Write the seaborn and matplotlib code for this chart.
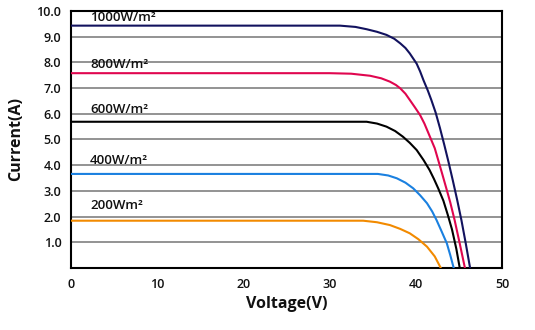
import matplotlib
matplotlib.use("Agg")
import matplotlib.pyplot as plt
import seaborn as sns
import pandas as pd

# Data
labels = ["1000W/m²", "800W/m²", "600W/m²", "400W/m²", "200Wm²"]
v_1000 = [0, 31.2, 33.0, 34.3, 35.5, 36.6, 37.5, 38.2, 38.8, 39.3, 39.7, 40.1, 40.5, 40.9, 41.4,
          41.8, 42.3, 42.8, 43.3, 43.8, 44.3, 44.8, 45.3, 45.8, 46.3]
i_1000 = [9.43, 9.43, 9.38, 9.29, 9.19, 9.07, 8.92, 8.74, 8.56, 8.35, 8.15, 7.95, 7.65, 7.3, 6.9,
          6.54, 6.05, 5.45, 4.8, 4.12, 3.4, 2.65, 1.85, 0.95, 0]
v_800 = [0, 30, 32.5, 34.7, 36.0, 37.0, 37.7, 38.2, 38.8, 39.3, 39.9, 40.5, 41.0, 41.4, 42.2,
         42.6, 43.1, 43.6, 44.0, 44.5, 45.1, 45.7]
i_800 = [7.58, 7.58, 7.56, 7.48, 7.38, 7.25, 7.12, 6.99, 6.78, 6.54, 6.25, 5.95, 5.62, 5.3, 4.66,
         4.2, 3.62, 3.03, 2.55, 1.87, 0.95, 0]
v_600 = [0, 34.3, 35.5, 36.6, 37.6, 38.5, 39.3, 40.1, 40.9, 41.6, 42.1, 42.6, 43.2, 43.7, 44.2,
         44.7, 45.1]
i_600 = [5.69, 5.69, 5.62, 5.5, 5.33, 5.11, 4.87, 4.59, 4.2, 3.81, 3.47, 3.1, 2.62, 2.08, 1.5,
         0.75, 0]
v_400 = [0, 35.6, 36.8, 37.8, 38.8, 39.7, 40.5, 41.3, 41.9, 42.4, 43.0, 43.6, 44.0, 44.4]
i_400 = [3.66, 3.66, 3.6, 3.49, 3.32, 3.1, 2.83, 2.52, 2.2, 1.87, 1.42, 0.96, 0.5, 0]
v_200 = [0, 33.9, 35.5, 37.0, 38.2, 39.3, 40.3, 41.3, 42.2, 42.9]
i_200 = [1.84, 1.84, 1.78, 1.67, 1.52, 1.35, 1.12, 0.83, 0.45, 0]
label_x = [2.2, 2.2, 2.2, 2.2, 2.2]
label_y = [9.73, 7.9, 6.15, 4.2, 2.45]
x_ticks = [0, 10, 20, 30, 40, 50]
y_ticks = [1, 2, 3, 4, 5, 6, 7, 8, 9, 10]
colors = ["#12125e", "#e0064f", "#000000", "#1a80e0", "#f28a00"]

volts = [v_1000, v_800, v_600, v_400, v_200]
amps = [i_1000, i_800, i_600, i_400, i_200]
rows = []
for lab, vs, is_ in zip(labels, volts, amps):
    for v, i in zip(vs, is_):
        rows.append({"Voltage": v, "Current": i, "Irradiance": lab})
df = pd.DataFrame(rows)

sns.set_theme(style="white")
plt.rcParams["font.family"] = ["Open Sans", "DejaVu Sans"]

fig = plt.figure(figsize=(5.35, 3.3), dpi=100)
ax = fig.add_axes([0.1327, 0.1879, 0.8056, 0.7788])

for yv in y_ticks[:-1]:
    ax.axhline(yv, color="#8a8a8a", lw=1.3, zorder=1)

sns.lineplot(data=df, x="Voltage", y="Current", hue="Irradiance",
             palette=dict(zip(labels, colors)), hue_order=labels,
             lw=1.5, ax=ax, legend=False, zorder=3, estimator=None, sort=False)

for lab, x, y in zip(labels, label_x, label_y):
    ax.text(x, y, lab, fontsize=9.5, va="center", ha="left", color="#111111",
            fontweight="semibold", zorder=4)

ax.set_xlim(0, 50)
ax.set_ylim(0, 10)
ax.set_xticks(x_ticks)
ax.set_xticklabels([str(t) for t in x_ticks])
ax.set_yticks(y_ticks)
ax.set_yticklabels([f"{t:.1f}" for t in y_ticks])
ax.tick_params(axis="both", length=0, labelsize=9, pad=7, colors="#111111")
for lbl in ax.get_xticklabels() + ax.get_yticklabels():
    lbl.set_fontweight("semibold")
ax.set_xlabel("Voltage(V)", fontsize=11.5, fontweight="bold", color="#111111", labelpad=4)
ax.set_ylabel("Current(A)", fontsize=11.5, fontweight="bold", color="#111111", labelpad=9)
for s in ax.spines.values():
    s.set_color("#000000")
    s.set_linewidth(1.5)
ax.grid(False)

fig.savefig("out.png", dpi=100)
